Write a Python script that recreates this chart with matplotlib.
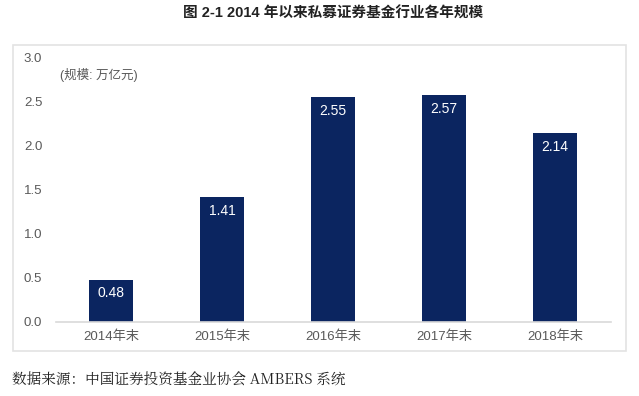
import numpy as np
import matplotlib
matplotlib.use("Agg")
import matplotlib.pyplot as plt
from matplotlib.patches import Rectangle

# data
years = ["2014年末", "2015年末", "2016年末", "2017年末", "2018年末"]
scale = [0.48, 1.41, 2.55, 2.57, 2.14]
yticks = [0.0, 0.5, 1.0, 1.5, 2.0, 2.5, 3.0]

plt.rcParams['font.family'] = ['Liberation Sans', 'Noto Sans CJK SC', 'DejaVu Sans']

fig = plt.figure(figsize=(6.39, 3.96), dpi=100)

# light frame around the plot area
fig.patches.append(Rectangle((13 / 639, 45 / 396), 613 / 639, 306 / 396,
                             transform=fig.transFigure, fill=False,
                             edgecolor="#e3e3e3", linewidth=1.2))

ax = fig.add_axes([55.5 / 639, 74 / 396, 555 / 639, 265 / 396])
x = np.arange(len(years))
bars = ax.bar(x, scale, width=0.4, color="#0b2560")

for xi, v in zip(x, scale):
    ax.annotate(f"{v:.2f}", (xi, v), xytext=(0, -10), textcoords="offset points",
                ha="center", va="center", color="white", fontsize=10)

ax.set_xlim(-0.5, 4.5)
ax.set_ylim(0, 3.0)
ax.set_yticks(yticks)
ax.set_yticklabels([f"{t:.1f}" for t in yticks])
ax.set_xticks(x)
ax.set_xticklabels(years)
ax.tick_params(axis="both", length=0, colors="#595959", labelsize=9.5)
ax.tick_params(axis="y", pad=9.5)
ax.tick_params(axis="x", pad=6)
for s in ["top", "right", "left"]:
    ax.spines[s].set_visible(False)
ax.spines["bottom"].set_color("#d9d9d9")
ax.spines["bottom"].set_linewidth(1.2)

ax.text(60 / 639, (396 - 75) / 396, "(规模: 万亿元)", transform=fig.transFigure,
        ha="left", va="center", fontsize=9, color="#595959")

fig.text(333 / 639, (396 - 14) / 396, "图 2-1 2014 年以来私募证券基金行业各年规模",
         ha="center", va="center", fontsize=10.5, fontweight="bold", color="#222222")

fig.text(12 / 639, (396 - 380) / 396, "数据来源：中国证券投资基金业协会 AMBERS 系统",
         ha="left", va="center", fontsize=10.5, color="#222222",
         family=['Noto Serif CJK SC', 'Noto Sans CJK SC', 'DejaVu Sans'])

fig.savefig("out.png", dpi=100, facecolor="white")
